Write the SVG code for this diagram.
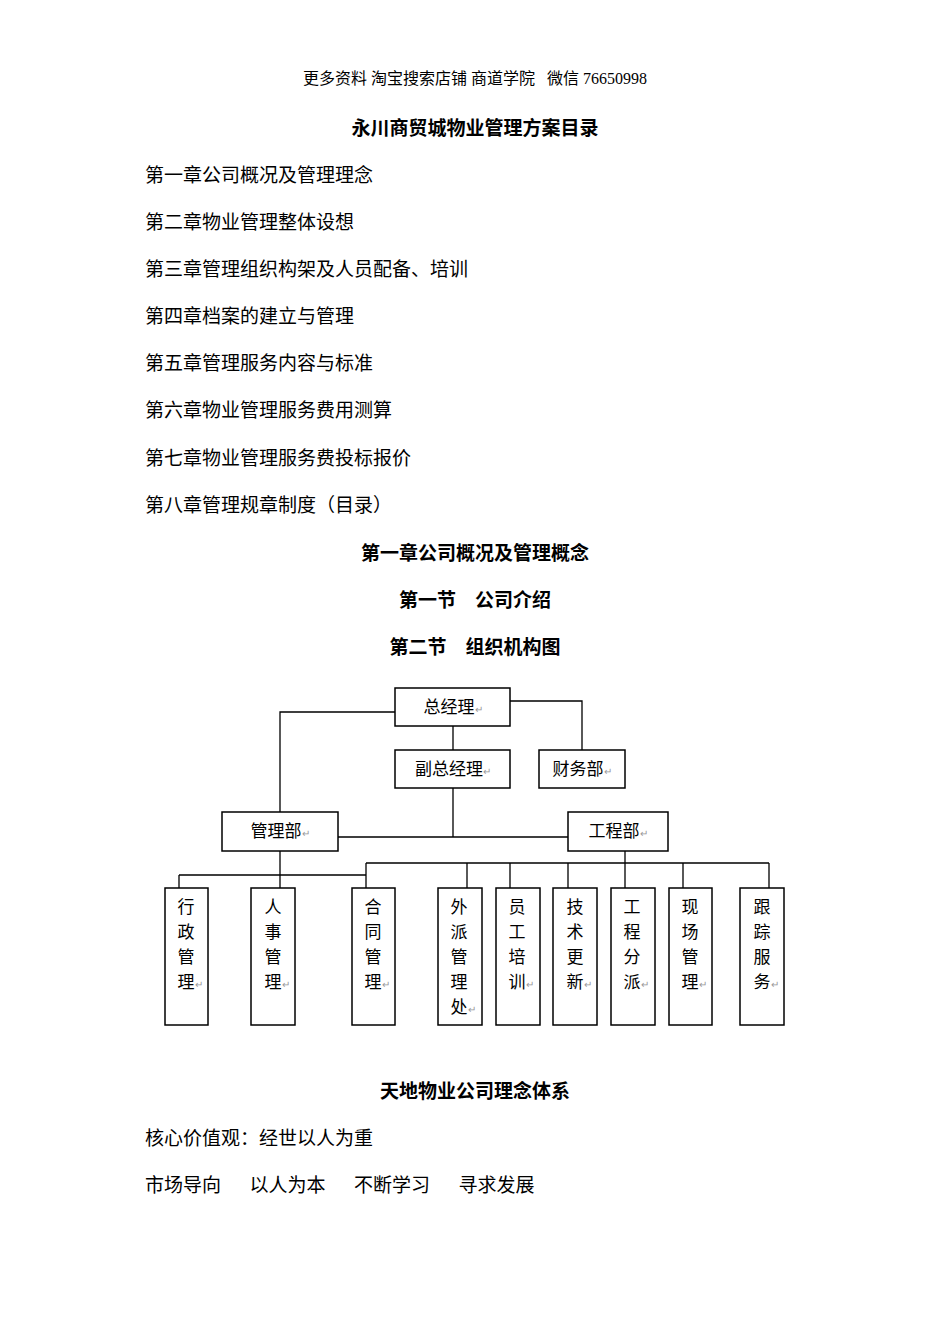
<svg xmlns="http://www.w3.org/2000/svg" width="950" height="1344" viewBox="0 0 950 1344">
<style>
text{font-family:"Liberation Serif","Noto Sans CJK SC",serif;fill:#000}
.t{font-size:19px}
.b{font-size:19px;font-weight:bold;text-anchor:middle}
.n{font-family:"Noto Sans CJK SC",sans-serif;font-size:17px;text-anchor:middle}
.r{fill:#999;font-size:10px}
rect{fill:#fff;stroke:#000;stroke-width:1.5}
.c{fill:none;stroke:#000;stroke-width:1.3}
</style>
<rect x="0" y="0" width="950" height="1344" style="stroke:none"/>
<text x="475" y="84" style="font-size:16px;text-anchor:middle" xml:space="preserve">更多资料 淘宝搜索店铺 商道学院   微信 76650998</text>
<text class="b" x="475" y="135">永川商贸城物业管理方案目录</text>
<text class="t" x="145" y="182">第一章公司概况及管理理念</text>
<text class="t" x="145" y="229">第二章物业管理整体设想</text>
<text class="t" x="145" y="276">第三章管理组织构架及人员配备、培训</text>
<text class="t" x="145" y="323">第四章档案的建立与管理</text>
<text class="t" x="145" y="370">第五章管理服务内容与标准</text>
<text class="t" x="145" y="417">第六章物业管理服务费用测算</text>
<text class="t" x="145" y="465">第七章物业管理服务费投标报价</text>
<text class="t" x="145" y="512">第八章管理规章制度（目录）</text>
<text class="b" x="475" y="560">第一章公司概况及管理概念</text>
<text class="b" x="475" y="607">第一节　公司介绍</text>
<text class="b" x="475" y="654">第二节　组织机构图</text>
<g id="connectors">
<path class="c" d="M395 712H280V812M510 701H582V750M453 726V750M453 788V837M338 837H568M625 851V888M366 863H769M467 863V888M510 863V888M568 863V888M683 863V888M769 863V888M280 851V888M179 875H366V888M179 875V888M366 863V875"/>
</g>
<g id="n1"><rect x="395" y="688" width="115" height="38"/><text class="n" x="453" y="713">总经理<tspan class="r">↵</tspan></text></g>
<g id="n2"><rect x="395" y="750" width="115" height="38"/><text class="n" x="453" y="775">副总经理<tspan class="r">↵</tspan></text></g>
<g id="n3"><rect x="539" y="750" width="86" height="38"/><text class="n" x="582" y="775">财务部<tspan class="r">↵</tspan></text></g>
<g id="n4"><rect x="222" y="812" width="116" height="39"/><text class="n" x="280" y="837">管理部<tspan class="r">↵</tspan></text></g>
<g id="n5"><rect x="568" y="812" width="100" height="39"/><text class="n" x="618" y="837">工程部<tspan class="r">↵</tspan></text></g>
<g id="b1"><rect x="165" y="888" width="43" height="137"/><text class="n"><tspan x="186" y="913">行</tspan><tspan x="186" y="938">政</tspan><tspan x="186" y="963">管</tspan><tspan x="186" y="988">理</tspan></text><text class="r" x="195" y="988">↵</text></g>
<g id="b2"><rect x="251" y="888" width="44" height="137"/><text class="n"><tspan x="273" y="913">人</tspan><tspan x="273" y="938">事</tspan><tspan x="273" y="963">管</tspan><tspan x="273" y="988">理</tspan></text><text class="r" x="282" y="988">↵</text></g>
<g id="b3"><rect x="352" y="888" width="43" height="137"/><text class="n"><tspan x="373" y="913">合</tspan><tspan x="373" y="938">同</tspan><tspan x="373" y="963">管</tspan><tspan x="373" y="988">理</tspan></text><text class="r" x="382" y="988">↵</text></g>
<g id="b4"><rect x="438" y="888" width="44" height="137"/><text class="n"><tspan x="459" y="913">外</tspan><tspan x="459" y="938">派</tspan><tspan x="459" y="963">管</tspan><tspan x="459" y="988">理</tspan><tspan x="459" y="1013">处</tspan></text><text class="r" x="468" y="1013">↵</text></g>
<g id="b5"><rect x="496" y="888" width="44" height="137"/><text class="n"><tspan x="517" y="913">员</tspan><tspan x="517" y="938">工</tspan><tspan x="517" y="963">培</tspan><tspan x="517" y="988">训</tspan></text><text class="r" x="526" y="988">↵</text></g>
<g id="b6"><rect x="553" y="888" width="44" height="137"/><text class="n"><tspan x="575" y="913">技</tspan><tspan x="575" y="938">术</tspan><tspan x="575" y="963">更</tspan><tspan x="575" y="988">新</tspan></text><text class="r" x="584" y="988">↵</text></g>
<g id="b7"><rect x="611" y="888" width="44" height="137"/><text class="n"><tspan x="632" y="913">工</tspan><tspan x="632" y="938">程</tspan><tspan x="632" y="963">分</tspan><tspan x="632" y="988">派</tspan></text><text class="r" x="641" y="988">↵</text></g>
<g id="b8"><rect x="669" y="888" width="43" height="137"/><text class="n"><tspan x="690" y="913">现</tspan><tspan x="690" y="938">场</tspan><tspan x="690" y="963">管</tspan><tspan x="690" y="988">理</tspan></text><text class="r" x="699" y="988">↵</text></g>
<g id="b9"><rect x="740" y="888" width="44" height="137"/><text class="n"><tspan x="762" y="913">跟</tspan><tspan x="762" y="938">踪</tspan><tspan x="762" y="963">服</tspan><tspan x="762" y="988">务</tspan></text><text class="r" x="771" y="988">↵</text></g>
<text class="b" x="475" y="1098">天地物业公司理念体系</text>
<text class="t" x="145" y="1145">核心价值观：经世以人为重</text>
<text class="t" x="145" y="1192" xml:space="preserve">市场导向　  以人为本　  不断学习　  寻求发展</text>
</svg>
